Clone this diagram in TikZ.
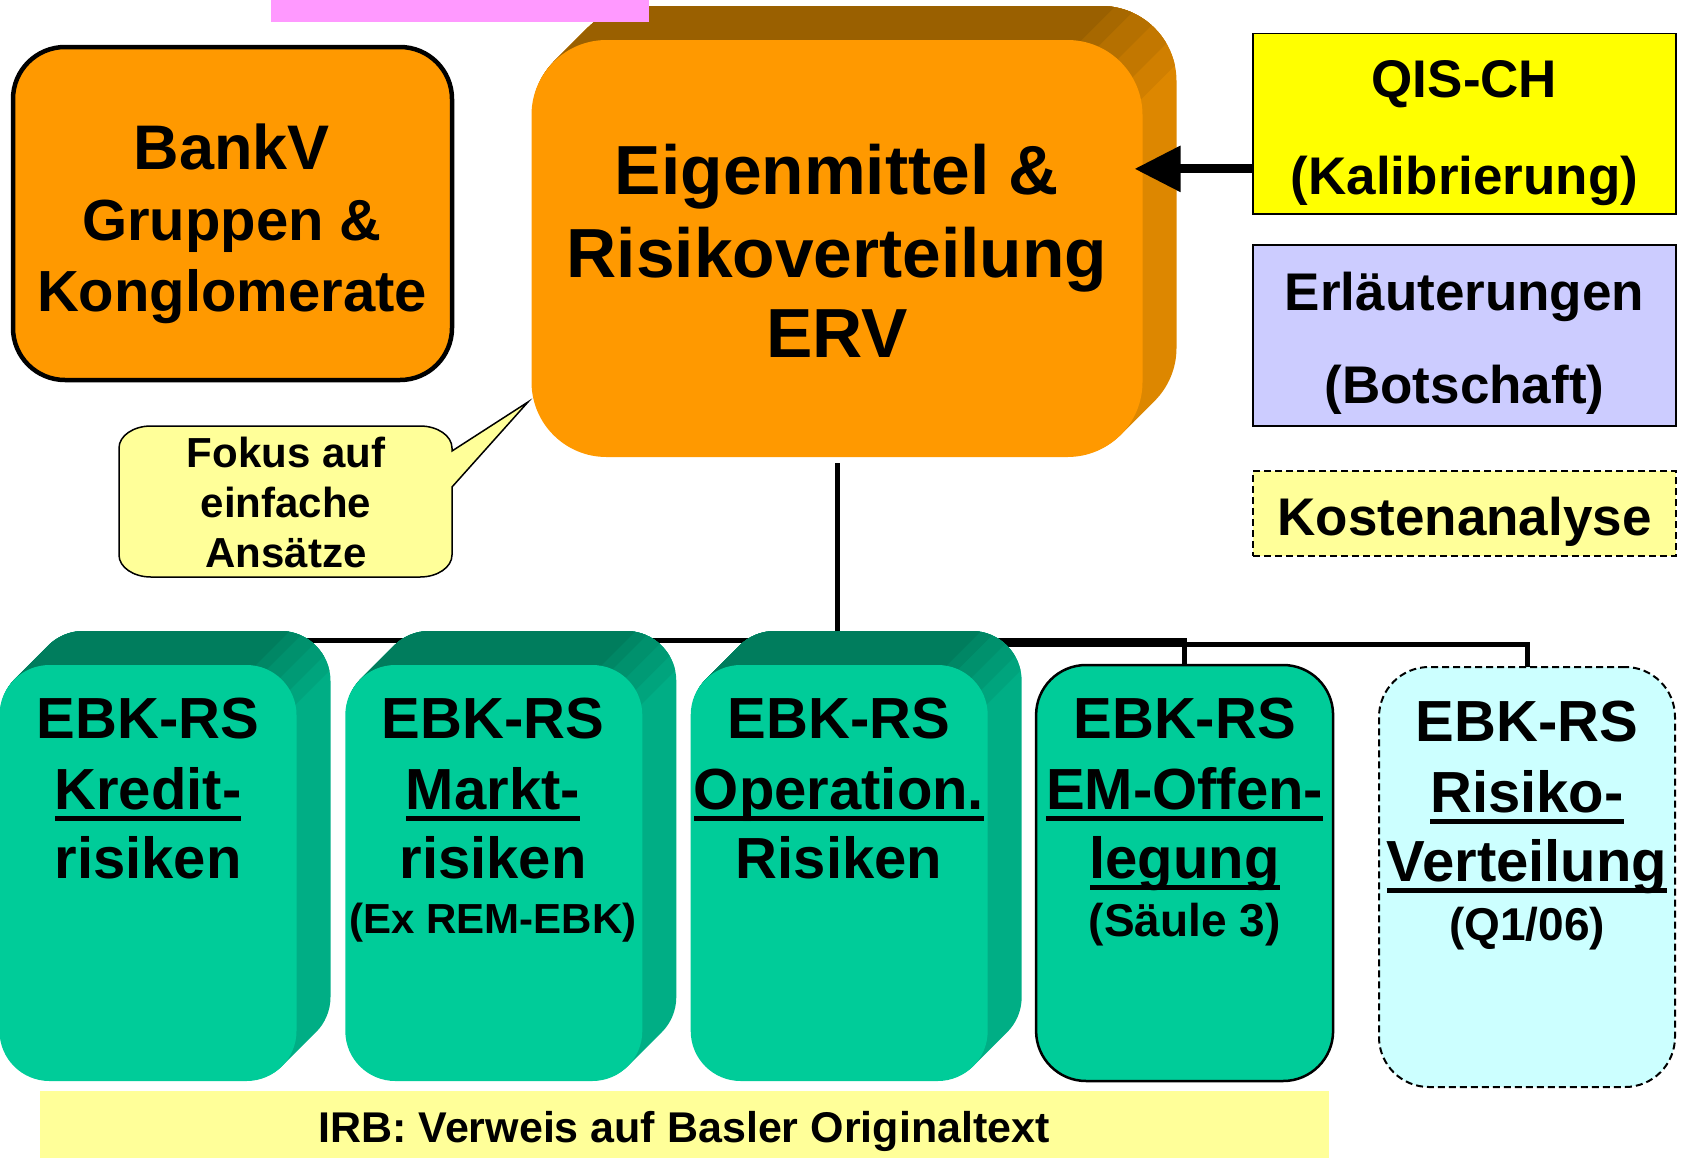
\documentclass[tikz,border=0pt]{standalone}
\usepackage{fontspec}
\setmainfont{Liberation Sans}
\usetikzlibrary{arrows.meta,backgrounds,calc}

\definecolor{gfront}{HTML}{00CC99}
\definecolor{gside}{HTML}{00AE85}
\definecolor{gtop}{HTML}{007D5D}
\definecolor{ofront}{HTML}{FF9900}
\definecolor{oside}{HTML}{DD8700}
\definecolor{otop}{HTML}{9A6000}
\definecolor{qisyel}{HTML}{FFFF00}
\definecolor{erlblue}{HTML}{CCCCFF}
\definecolor{paleyel}{HTML}{FFFF99}
\definecolor{palecyan}{HTML}{CCFFFF}
\definecolor{pinkbar}{HTML}{FF99FF}

\newcommand\fsz[1]{\fontsize{#1}{#1}\selectfont\bfseries}
\newsavebox\ulbx
\newcommand\ulw[1]{\sbox\ulbx{#1}\rlap{\rule[-12pt]{\wd\ulbx}{5.5pt}}\usebox\ulbx}

% #1 node, #2 radius, #3 depth, #4 side colour, #5 top colour
\newcommand\extrude[5]{%
  \fill[#4, rounded corners=#2pt] \foreach \k in {1,...,#3}{([shift={(\k pt,\k pt)}]#1.south west) rectangle ([shift={(\k pt,\k pt)}]#1.north east)};
  \foreach \ang/\pct in {12/20, 30/40, 48/60, 66/80, 80/100}{%
    \begin{scope}
      \clip ([shift={({(cos(\ang)-1)*#2pt+600pt},{(sin(\ang)-1)*#2pt+600pt})}]#1.north east) -- ++(-1200pt,-1200pt) -- ++(-3000pt,0pt) -- ++(1200pt,1200pt) -- cycle;
      \fill[#5!\pct!#4, rounded corners=#2pt] \foreach \k in {1,...,#3}{([shift={(\k pt,\k pt)}]#1.south west) rectangle ([shift={(\k pt,\k pt)}]#1.north east)};
    \end{scope}
  }%
}

\begin{document}
\begin{tikzpicture}[x=1pt,y=-1pt,
  face/.style={rectangle, inner sep=0pt, outer sep=0pt},
  gface/.style={face, fill=gfront, rounded corners=50pt, minimum width=297pt, minimum height=416pt},
  txt/.style={anchor=base, inner sep=0pt, outer sep=0pt},
  conn/.style={draw=black, line width=5pt},
  thinbox/.style={face, draw=black, line width=1.5pt, minimum width=423pt},
]
\useasboundingbox (0,0) rectangle (1687,1160);

% top pink bar
\fill[pinkbar] (271,0) rectangle (649,22);

% BankV
\node[face, fill=ofront, draw=black, line width=4.5pt, rounded corners=52pt,
      minimum width=439pt, minimum height=333pt] (bankv) at (232.5,213.5) {};
\node[txt, font=\fsz{63}] (bankv1) at (232,169) {BankV};
\node[txt, font=\fsz{58}] (bankv2) at (232,240) {Gruppen \&};
\node[txt, font=\fsz{58}] (bankv3) at (232,311) {Konglomerate};

% ERV main box (front face)
\node[face, fill=ofront, rounded corners=75pt, minimum width=611pt, minimum height=417pt] (erv) at (837,248.5) {};
\node[txt, font=\fsz{69.5}] (erv1) at (837,194) {Eigenmittel \&};
\node[txt, font=\fsz{69.5}] (erv2) at (837,277) {Risikoverteilung};
\node[txt, font=\fsz{69.5}] (erv3) at (837,357) {ERV};

% right column
\node[thinbox, fill=qisyel, minimum height=180.6pt] (qis) at (1464.5,123.7) {};
\node[txt, font=\fsz{53}] (qis1) at (1464.5,97) {QIS-CH};
\node[txt, font=\fsz{53}] (qis2) at (1464.5,194) {(Kalibrierung)};

\node[thinbox, fill=erlblue, minimum height=181pt] (erl) at (1464.5,335.5) {};
\node[txt, font=\fsz{53}] (erl1) at (1464.5,310) {Erläuterungen};
\node[txt, font=\fsz{53}] (erl2) at (1464.5,403) {(Botschaft)};

\node[thinbox, fill=paleyel, dash pattern=on 7pt off 4pt, minimum height=85pt] (kost) at (1464.5,513.5) {};
\node[txt, font=\fsz{53}] (kost1) at (1464.5,535) {Kostenanalyse};

% arrow QIS -> ERV
\coordinate (qisin) at ($(qis.north west)!0.75!(qis.south west)$);
\draw[line width=9pt, shorten >=-8pt, -{Triangle[length=46pt,width=44pt]}] (qisin) -- (qisin -| erv.east);

% callout
\draw[fill=paleyel, line width=1.5pt] (151,426) -- (420,426) arc[start angle=90, end angle=0, x radius=32pt, y radius=22pt]
   -- (452,451) -- (528,402) -- (452,487) -- (452,555) arc[start angle=0, end angle=-90, x radius=32pt, y radius=22pt]
   -- (151,577) arc[start angle=-90, end angle=-180, x radius=32pt, y radius=22pt]
   -- (119,448) arc[start angle=180, end angle=90, x radius=32pt, y radius=22pt] -- cycle;
\node[txt, font=\fsz{42}] (call1) at (286,467) {Fokus auf};
\node[txt, font=\fsz{42}] (call2) at (286,517) {einfache};
\node[txt, font=\fsz{42}] (call3) at (286,567) {Ansätze};

% bottom boxes (front faces)
\node[gface] (k1) at (148,873) {};
\node[gface] (k2) at (493.8,873) {};
\node[gface] (k3) at (839.2,873) {};
\node[gface, draw=black, line width=2.5pt] (k4) at (1184.6,873) {};
\node[face, fill=palecyan, draw=black, line width=2pt, dash pattern=on 7pt off 4pt,
      rounded corners=50pt, minimum width=296pt, minimum height=420pt] (k5) at (1527,877) {};

\node[txt, font=\fsz{58}] (k1a) at (148,738) {EBK-RS};
\node[txt, font=\fsz{58}] (k1b) at (148,809) {\ulw{Kredit-}};
\node[txt, font=\fsz{58}] (k1c) at (148,878) {risiken};

\node[txt, font=\fsz{58}] (k2a) at (493,738) {EBK-RS};
\node[txt, font=\fsz{58}] (k2b) at (493,809) {\ulw{Markt-}};
\node[txt, font=\fsz{58}] (k2c) at (493,878) {risiken};
\node[txt, font=\fsz{42}] (k2d) at (493,933) {(Ex REM-EBK)};

\node[txt, font=\fsz{58}] (k3a) at (839,738) {EBK-RS};
\node[txt, font=\fsz{58}] (k3b) at (839,809) {\ulw{Operation.}};
\node[txt, font=\fsz{58}] (k3c) at (839,878) {Risiken};

\node[txt, font=\fsz{58}] (k4a) at (1184.6,738) {EBK-RS};
\node[txt, font=\fsz{58}] (k4b) at (1184.6,809) {\ulw{EM-Offen-}};
\node[txt, font=\fsz{58}] (k4c) at (1184.6,878) {\ulw{legung}};
\node[txt, font=\fsz{46}] (k4d) at (1184.6,936) {(Säule 3)};

\node[txt, font=\fsz{58}] (k5a) at (1527,741) {EBK-RS};
\node[txt, font=\fsz{58}] (k5b) at (1527,812) {\ulw{Risiko-}};
\node[txt, font=\fsz{58}] (k5c) at (1527,881) {\ulw{Verteilung}};
\node[txt, font=\fsz{46}] (k5d) at (1527,940) {(Q1/06)};

% bottom band
\fill[paleyel] (40,1091) rectangle (1329,1158);
\node[txt, font=\fsz{43}] (irb) at (684,1142) {IRB: Verweis auf Basler Originaltext};

% connectors and 3D extrusions behind
\begin{pgfonlayer}{background}
  \coordinate (bus) at (837,640);
  \coordinate (bus2) at (837,644);
  \draw[conn] ([yshift=-6pt]erv.south) -- (bus2);
  \draw[conn] (bus) -| (k1.north);
  \draw[conn] (bus) -| (k2.north);
  \draw[conn] (bus) -| (k3.north);
  \draw[conn] (bus) -| (k4.north);
  \draw[conn] (bus2) -| (k5.north);
  \extrude{erv}{75}{34}{oside}{otop}
  \extrude{k1}{50}{34}{gside}{gtop}
  \extrude{k2}{50}{34}{gside}{gtop}
  \extrude{k3}{50}{34}{gside}{gtop}
\end{pgfonlayer}
\end{tikzpicture}
\end{document}
